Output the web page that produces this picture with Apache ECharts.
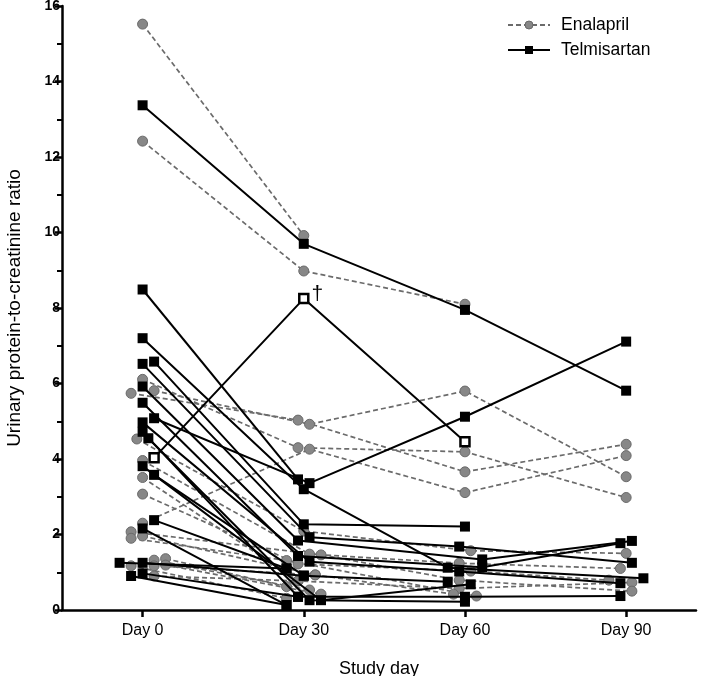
<!DOCTYPE html>
<html>
<head>
<meta charset="utf-8">
<script src="https://cdn.jsdelivr.net/npm/echarts@6/dist/echarts.min.js"></script>
<style>html,body{margin:0;padding:0;background:#fff}#c{width:709px;height:676px}</style>
</head>
<body>
<div id="c"></div>
<script>
// Study days (x categories)
const days = [0, 30, 60, 90];
const dayLabels = ['Day 0', 'Day 30', 'Day 60', 'Day 90'];
const yTicks = [0, 2, 4, 6, 8, 10, 12, 14, 16];

// Enalapril subjects: UPC at Day 0, 30, 60, 90 (null = missing)
const enalaprilValues = [
  [15.52, 9.92, null, null],
  [12.42, 8.98, 8.10, null],
  [5.74, 5.03, 3.66, 4.39],
  [5.81, 4.92, 5.80, 3.53],
  [6.11, 4.30, 4.19, 2.98],
  [2.30, 4.26, 3.11, 4.09],
  [4.53, 2.09, 1.57, 1.50],
  [3.96, 1.48, 1.24, 1.10],
  [3.51, 0.77, 0.57, 0.73],
  [3.07, 1.22, 1.03, 0.79],
  [2.07, 1.46, 0.79, 0.50],
  [1.96, 0.93, 0.42, null],
  [1.90, 1.31, 0.37, null],
  [1.36, 0.62, null, null],
  [1.32, 0.53, null, null],
  [1.19, 0.42, null, null],
  [1.17, 0.31, null, null],
  [1.17, 0.93, null, null],
  [0.90, 0.77, null, null]
];
// horizontal jitter (in jitter steps) of each Enalapril point
const enalaprilJitter = [
  [0, 0, 0, 0], [0, 0, 0, 0], [-2, -1, 0, 0], [2, 1, 0, 0], [0, -1, 0, 0],
  [0, 1, 0, 0], [-1, 0, 1, 0], [0, 1, -1, -1], [0, -1, -1, 1], [0, -1, 1, -3],
  [-2, 3, -1, 1], [0, 2, -2, 0], [-2, -3, 2, 0], [4, -3, 0, 0], [2, 1, 0, 0],
  [4, 3, 0, 0], [-2, -3, 0, 0], [2, 2, 0, 0], [2, -1, 0, 0]
];

// Telmisartan subjects
const telmisartanValues = [
  [13.37, 9.70, 7.95, 5.81],
  [5.08, 3.36, 5.12, 7.11],
  [8.49, 3.46, null, null],
  [7.20, 3.20, 1.12, 0.84],
  [6.58, 2.27, 2.21, null],
  [6.52, 1.93, 1.68, 1.25],
  [5.92, 1.84, 1.34, 1.83],
  [5.49, 1.43, 1.13, 1.77],
  [4.97, 1.28, 1.02, 0.71],
  [4.72, 0.35, 0.35, 0.37],
  [4.55, 0.26, 0.22, null],
  [3.81, 0.26, 0.68, null],
  [3.58, 0.91, 0.75, null],
  [2.38, 1.10, null, null],
  [2.16, 0.13, null, null],
  [1.25, 1.10, null, null],
  [1.25, 0.91, null, null],
  [0.97, 0.35, null, null],
  [0.90, 0.13, null, null]
];
const telmisartanJitter = [
  [0, 0, 0, 0], [2, 1, 0, 0], [0, -1, 0, 0], [0, 0, -3, 3], [2, 0, 0, 0],
  [0, 1, -1, 1], [0, -1, 3, 1], [0, -1, 3, -1], [0, 1, -1, -1], [0, -1, 0, -1],
  [1, 1, 0, 0], [0, 3, 1, 0], [2, 0, -3, 0], [2, -3, 0, 0], [0, -3, 0, 0],
  [-4, -3, 0, 0], [0, 0, 0, 0], [0, -1, 0, 0], [-2, -3, 0, 0]
];

// Subject with open-square markers (†)
const openSubjectValues = [4.03, 8.25, 4.46, null];
const openSubjectJitter = [2, 0, 0, 0];
const daggerIndex = 1;

const jitterStep = 1.07; // days per jitter step

function toPoints(vals, jit) {
  const pts = [];
  vals.forEach((v, i) => {
    if (v !== null) pts.push([days[i] + jit[i] * jitterStep, v]);
  });
  return pts;
}

const FONT = '"Liberation Sans", Arial, Helvetica, sans-serif';
const series = [];

enalaprilValues.forEach((vals, k) => {
  series.push({
    name: 'Enalapril', type: 'line', z: 2,
    data: toPoints(vals, enalaprilJitter[k]),
    symbol: 'circle', symbolSize: 10, showAllSymbol: true,
    lineStyle: { color: '#6b6b6b', width: 1.7, type: [5, 3] },
    itemStyle: { color: '#878787', borderColor: '#6a6a6a', borderWidth: 1 },
    emphasis: { disabled: true }
  });
});

telmisartanValues.forEach((vals, k) => {
  series.push({
    name: 'Telmisartan', type: 'line', z: 3,
    data: toPoints(vals, telmisartanJitter[k]),
    symbol: 'rect', symbolSize: 10, showAllSymbol: true,
    lineStyle: { color: '#000', width: 2 },
    itemStyle: { color: '#000' },
    emphasis: { disabled: true }
  });
});

const openData = toPoints(openSubjectValues, openSubjectJitter).map((p, i) => {
  if (i === daggerIndex) {
    return { value: p, label: { show: true, formatter: '\u2020', position: 'right', distance: 2, offset: [0, -4], fontSize: 21, color: '#000', fontFamily: FONT } };
  }
  return p;
});
series.push({
  name: 'Telmisartan', type: 'line', z: 4,
  data: openData,
  symbol: 'rect', symbolSize: 9, showAllSymbol: true,
  lineStyle: { color: '#000', width: 2 },
  itemStyle: { color: '#fff', borderColor: '#000', borderWidth: 2.5 },
  emphasis: { disabled: true }
});

const chart = echarts.init(document.getElementById('c'), null, { renderer: 'canvas' });
chart.setOption({
  animation: false,
  backgroundColor: '#fff',
  textStyle: { fontFamily: FONT },
  grid: { left: 62, right: 13, top: 6, bottom: 66, containLabel: false, outerBoundsMode: 'none' },
  legend: {
    data: [
      { name: 'Enalapril', itemStyle: { color: '#878787', borderColor: '#6a6a6a', borderWidth: 1 } },
      { name: 'Telmisartan', itemStyle: { color: '#000' } }
    ],
    orient: 'vertical', left: 507, top: 16, padding: 0,
    itemWidth: 42, itemHeight: 10, itemGap: 7,
    textStyle: { fontSize: 17.5, color: '#000', fontFamily: FONT, padding: [0, 0, 0, 6] },
    selectedMode: false
  },
  xAxis: {
    type: 'value', min: -15, max: 103,
    name: 'Study day', nameLocation: 'middle', nameGap: 50,
    nameTextStyle: { fontSize: 18, color: '#000', fontFamily: FONT },
    axisLine: { show: true, onZero: false, lineStyle: { color: '#000', width: 2.5 } },
    axisTick: { show: true, length: 7, customValues: days, lineStyle: { color: '#000', width: 2.5 } },
    axisLabel: {
      customValues: days, margin: 13, fontSize: 16, color: '#000', fontFamily: FONT,
      formatter: v => dayLabels[days.indexOf(v)]
    },
    splitLine: { show: false }
  },
  yAxis: {
    type: 'value', min: yTicks[0], max: yTicks[yTicks.length - 1], interval: 2,
    name: 'Urinary protein-to-creatinine ratio', nameLocation: 'middle', nameGap: 38,
    nameTextStyle: { fontSize: 19, color: '#000', fontFamily: FONT },
    axisLine: { show: true, onZero: false, lineStyle: { color: '#000', width: 2.5 } },
    axisTick: { show: true, length: 7, lineStyle: { color: '#000', width: 2.5 } },
    minorTick: { show: true, splitNumber: 2, length: 5, lineStyle: { color: '#000', width: 2 } },
    axisLabel: { margin: 2, fontSize: 14, fontWeight: 'bold', color: '#000', fontFamily: FONT },
    splitLine: { show: false }
  },
  series: series
});
</script>
</body>
</html>
